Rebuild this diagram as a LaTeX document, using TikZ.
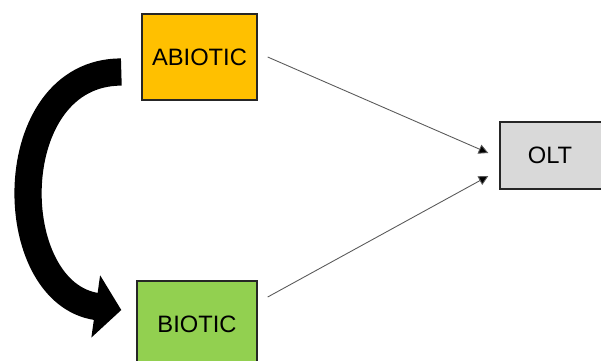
\documentclass[tikz,border=0pt]{standalone}
\usepackage{fontspec}
\setmainfont{Liberation Sans}
\usetikzlibrary{arrows.meta}

\definecolor{abioticfill}{HTML}{FFC000}
\definecolor{bioticfill}{HTML}{92D050}
\definecolor{oltfill}{HTML}{D9D9D9}

\tikzset{
	factor/.style={draw=black!85,line width=0.8pt,inner sep=0pt,font=\fontsize{13.5}{16}\selectfont},
	thinarrow/.style={draw=black!65,line width=0.5pt,-{Triangle[length=5.5pt,width=5.5pt,fill=black]}},
	bigarrow/.style={line width=15.5pt,-{Triangle[length=14.7pt,width=35pt]}}
}

\begin{document}
\begin{tikzpicture}[x=0.02cm,y=-0.02cm]
		\useasboundingbox (0,0) rectangle (601,360);
		% boxes
		\node[factor,fill=abioticfill,minimum width=2.3cm,minimum height=1.72cm] (abiotic) at (199.5,57) {ABIOTIC};
		\node[factor,fill=bioticfill,minimum width=2.4cm,minimum height=1.72cm] (biotic) at (197,324) {\raisebox{-4pt}{BIOTIC}};
		\node[factor,fill=oltfill,minimum width=2.2cm,minimum height=1.34cm] (olt) at (555,155.5) {\hspace*{-0.2cm}OLT};
		% free ends of the arrows
		\coordinate (bendstart) at ([xshift=-0.4cm,yshift=-0.3cm]abiotic.west);
		\coordinate (bendend) at ([xshift=-0.3cm,yshift=0.28cm]biotic.west);
		\coordinate (abioticout) at ([xshift=0.2cm]abiotic.east);
		\coordinate (bioticout) at ([xshift=0.2cm,yshift=0.54cm]biotic.east);
		\coordinate (oltinup) at ([xshift=-0.22cm,yshift=0.05cm]olt.west);
		\coordinate (oltindown) at ([xshift=-0.22cm,yshift=-0.41cm]olt.west);
		% arrows
		\draw[bigarrow] (bendstart) to[out=180,in=172,looseness=1.3] (bendend);
		\draw[thinarrow] (abioticout) -- (oltinup);
		\draw[thinarrow] (bioticout) -- (oltindown);
	\end{tikzpicture}
\end{document}
